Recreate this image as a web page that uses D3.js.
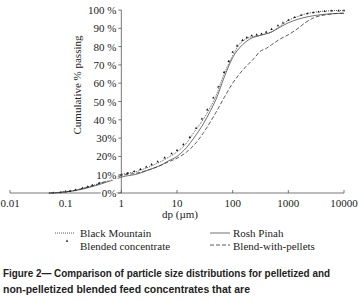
<!DOCTYPE html>
<html><head><meta charset="utf-8">
<script src="https://cdn.jsdelivr.net/npm/d3@7"></script>
<style>
html,body{margin:0;padding:0;background:#fff;}
svg{display:block;}
.serif{font-family:"Liberation Serif","Times New Roman",serif;fill:#222;}
.cap{font-family:"Liberation Sans",Arial,sans-serif;font-weight:bold;fill:#222;}
</style></head>
<body>
<svg id="c" width="359" height="301"></svg>
<script>
// ---- data ----
const xTicks = [0.01, 0.1, 1, 10, 100, 1000, 10000];
const xTickLabels = ["0.01", "0.1", "1", "10", "100", "1000", "10000"];
const yTicks = [0, 10, 20, 30, 40, 50, 60, 70, 80, 90, 100];
const yTickLabels = ["0%", "10%", "20%", "30%", "40 %", "50 %", "60 %", "70 %", "80 %", "90 %", "100 %"];

const bmSize = [0.05,0.07,0.1,0.15,0.2,0.3,0.4,0.5,0.7,1,2,3,5,7,10,15,20,30,40,50,70,100,130,170,200,300,400,500,700,1000,1500,2000,3000,5000,10000];
const bmPass = [0,0.2,0.7,1.6,2.5,4,5.3,6.3,7.9,10,12,14,17,19.5,22.5,27.5,33,40.5,47,53,65,75,81,84,85,86,87,88,91,94.3,96.5,97.8,98.8,99.5,99.8];

const rpSize = [0.05,0.07,0.1,0.15,0.2,0.3,0.4,0.5,0.7,1,2,3,5,7,10,15,20,30,40,50,70,100,150,200,300,500,700,1000,1500,2000,3000,5000,10000];
const rpPass = [0,0.15,0.6,1.3,2.1,3.5,4.6,5.6,7,8.7,10.5,12.5,15,17.5,20,25,30,38,45,51,63,74,81,84,86,88,90.5,93,95,96,97,97.8,98.2];

const blSize = [0.06,0.08,0.1,0.12,0.15,0.2,0.25,0.3,0.4,1,1.3,1.7,2.2,2.8,3.5,4.5,6,8,10,13,17,22,28,35,45,55,70,85,100,120,150,180,220,270,330,400,500,650,800,1000,1300,1700,2200,2800,3500,4500,6000,8000,10000];
const blPass = [0.1,0.3,0.7,1.1,1.7,2.7,3.5,4.3,5.5,10,10.8,11.8,13,14.3,15.6,17.2,19.3,21.5,23.3,26.5,30.5,35.5,40.5,45.5,52,58,66,72,77,80.5,83.5,85,86,86.5,87,88,89.5,91.5,93,94.5,96,97.2,98,98.6,99,99.3,99.5,99.6,99.7];

const bpSize = [0.05,0.07,0.1,0.15,0.2,0.3,0.4,0.5,0.7,1,2,3,5,7,10,15,20,30,40,50,70,100,150,200,250,300,400,500,700,1000,1500,2000,3000,5000,10000];
const bpPass = [0,0.2,0.7,1.5,2.4,3.8,5,6,7.6,9.5,11,12.5,15,17,19,22.5,26,33,39,44,52,60,67,71,74,77,79,81,84,86.5,90,93,96,97.5,98.3];

const legendNames = ["Black Mountain", "Rosh Pinah", "Blended concentrate", "Blend-with-pellets"];
const captionLines = ["Figure 2\u2014 Comparison of particle size distributions for pelletized and",
                      "non-pelletized blended feed concentrates that are"];

// ---- chart ----
const svg = d3.select("#c");
const x = d3.scaleLog().domain([0.01, 10000]).range([10, 344]);
const y = d3.scaleLinear().domain([0, 100]).range([193, 10]);
const ink = "#333";

const zip = (a, b) => a.map((d, i) => [d, b[i]]);
const line = d3.line().x(d => x(d[0])).y(d => y(d[1])).curve(d3.curveMonotoneX);

// curves
svg.append("path").attr("d", line(zip(bpSize, bpPass))).attr("fill", "none")
  .attr("stroke", ink).attr("stroke-width", 0.8).attr("stroke-dasharray", "4,2");
svg.append("path").attr("d", line(zip(rpSize, rpPass))).attr("fill", "none")
  .attr("stroke", ink).attr("stroke-width", 0.7);
svg.append("path").attr("d", line(zip(bmSize, bmPass))).attr("fill", "none")
  .attr("stroke", ink).attr("stroke-width", 0.8).attr("stroke-dasharray", "1,1");
const tri = d3.symbol().type(d3.symbolTriangle).size(2.5);
svg.append("g").selectAll("path").data(zip(blSize, blPass)).join("path")
  .attr("d", tri).attr("transform", d => `translate(${x(d[0])},${y(d[1])})`)
  .attr("fill", "#111");

// x axis
const xa = svg.append("g").attr("transform", `translate(0,${y(0)})`);
xa.append("line").attr("x1", x(0.01)).attr("x2", x(10000)).attr("stroke", "#555").attr("stroke-width", 0.8);
xa.selectAll("line.t").data(xTicks).join("line").attr("class", "t")
  .attr("x1", d => x(d)).attr("x2", d => x(d)).attr("y1", 0).attr("y2", -3)
  .attr("stroke", "#555").attr("stroke-width", 0.8);
xa.selectAll("text").data(xTicks).join("text").attr("class", "serif")
  .attr("x", d => x(d)).attr("y", 14).attr("text-anchor", "middle")
  .attr("font-size", 11).text((d, i) => xTickLabels[i]);

// y axis at x = 1
const ya = svg.append("g").attr("transform", `translate(${x(1)},0)`);
ya.append("line").attr("y1", y(0)).attr("y2", y(100)).attr("stroke", "#555").attr("stroke-width", 0.8);
ya.selectAll("text").data(yTicks).join("text").attr("class", "serif")
  .attr("x", -5).attr("y", d => y(d) + 4).attr("text-anchor", "end")
  .attr("font-size", 11).attr("stroke", "#fff").attr("stroke-width", 3)
  .attr("paint-order", "stroke").text((d, i) => yTickLabels[i]);
ya.selectAll("line.t").data(yTicks).join("line").attr("class", "t")
  .attr("x1", -3).attr("x2", 0).attr("y1", d => y(d)).attr("y2", d => y(d))
  .attr("stroke", "#555").attr("stroke-width", 0.8);

// axis titles
svg.append("text").attr("class", "serif").attr("x", 180).attr("y", 218)
  .attr("text-anchor", "middle").attr("font-size", 11).text("dp (\u00b5m)");
svg.append("text").attr("class", "serif").attr("transform", "translate(81,85) rotate(-90)")
  .attr("text-anchor", "middle").attr("font-size", 11).text("Cumulative % passing");

// legend
const lg = svg.append("g");
lg.append("line").attr("x1", 55).attr("x2", 75).attr("y1", 233).attr("y2", 233)
  .attr("stroke", ink).attr("stroke-width", 0.8).attr("stroke-dasharray", "1,1");
lg.append("line").attr("x1", 210).attr("x2", 230).attr("y1", 233).attr("y2", 233)
  .attr("stroke", ink).attr("stroke-width", 0.7);
lg.append("path").attr("d", tri).attr("transform", "translate(67,241)").attr("fill", "#111");
lg.append("line").attr("x1", 210).attr("x2", 230).attr("y1", 245).attr("y2", 245)
  .attr("stroke", ink).attr("stroke-width", 0.8).attr("stroke-dasharray", "4,2");
const lpos = [[80, 237], [233, 237], [80, 250], [233, 250]];
lg.selectAll("text").data(legendNames).join("text").attr("class", "serif")
  .attr("x", (d, i) => lpos[i][0]).attr("y", (d, i) => lpos[i][1])
  .attr("font-size", 11).text(d => d);

// caption
const capLen = [327, 247];
svg.selectAll("text.capt").data(captionLines).join("text").attr("class", "cap capt")
  .attr("x", 3).attr("y", (d, i) => 277 + i * 16).attr("font-size", 10.5)
  .attr("textLength", (d, i) => capLen[i]).attr("lengthAdjust", "spacingAndGlyphs")
  .text(d => d);
</script>
</body></html>
